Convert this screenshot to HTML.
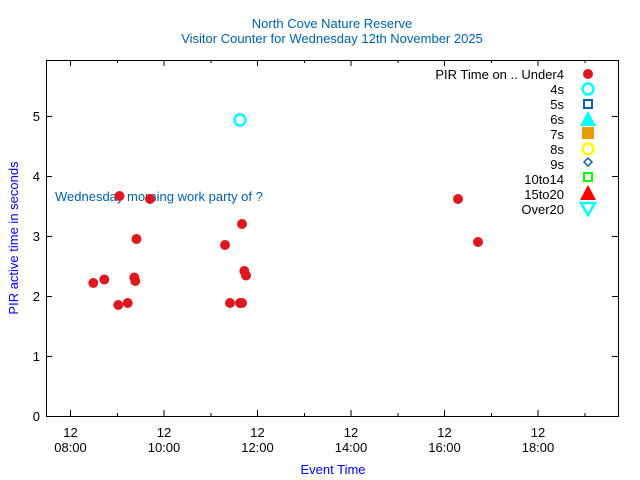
<!DOCTYPE html>
<html><head><meta charset="utf-8"><style>body{margin:0;background:#fff}svg{display:block}text{font-family:"Liberation Sans",sans-serif;font-size:13px}</style></head><body>
<svg width="640" height="480" xmlns="http://www.w3.org/2000/svg">
<rect width="640" height="480" fill="#fff"/>
<text x="332" y="28" text-anchor="middle" fill="#0060ad">North Cove Nature Reserve</text>
<text x="332" y="43" text-anchor="middle" fill="#0060ad">Visitor Counter for Wednesday 12th November 2025</text>
<rect x="46.5" y="60.5" width="572" height="356" fill="none" stroke="#000" stroke-width="1"/>
<g stroke="#000" stroke-width="1">
<path d="M46 356.5h6M46 296.5h6M46 236.5h6M46 176.5h6M46 116.5h6M618 356.5h-6M618 296.5h-6M618 236.5h-6M618 176.5h-6M618 116.5h-6"/>
<path d="M70.5 416v-6M164 416v-6M257.5 416v-6M351 416v-6M444.5 416v-6M538 416v-6M117.5 416v-3M211 416v-3M304.5 416v-3M398 416v-3M491.5 416v-3M585 416v-3"/>
<path d="M70.5 60v6M164 60v6M257.5 60v6M351 60v6M444.5 60v6M538 60v6M117.5 60v3M211 60v3M304.5 60v3M398 60v3M491.5 60v3M585 60v3"/>
</g>
<g text-anchor="end" fill="#000">
<text x="40" y="421">0</text><text x="40" y="361">1</text><text x="40" y="301">2</text><text x="40" y="241">3</text><text x="40" y="181">4</text><text x="40" y="121">5</text>
</g>
<g text-anchor="middle" fill="#000">
<text x="70.5" y="437">12</text><text x="70.5" y="452">08:00</text>
<text x="164" y="437">12</text><text x="164" y="452">10:00</text>
<text x="257.5" y="437">12</text><text x="257.5" y="452">12:00</text>
<text x="351" y="437">12</text><text x="351" y="452">14:00</text>
<text x="444.5" y="437">12</text><text x="444.5" y="452">16:00</text>
<text x="538" y="437">12</text><text x="538" y="452">18:00</text>
</g>
<text x="333" y="474" text-anchor="middle" fill="#0000ff">Event Time</text>
<text transform="translate(18,238) rotate(-90)" text-anchor="middle" fill="#0000ff">PIR active time in seconds</text>
<text x="55" y="201" fill="#0060ad">Wednesday morning work party of ?</text>
<g fill="#dd181f">
<circle cx="93.3" cy="283" r="5"/><circle cx="104.3" cy="279.5" r="5"/><circle cx="118.3" cy="305" r="5"/><circle cx="119.5" cy="196" r="5"/><circle cx="127.7" cy="303" r="5"/><circle cx="134.3" cy="277.5" r="5"/><circle cx="135.3" cy="281" r="5"/><circle cx="136.5" cy="239" r="5"/><circle cx="150" cy="199" r="5"/><circle cx="225" cy="245" r="5"/><circle cx="230" cy="303" r="5"/><circle cx="240" cy="303" r="5"/><circle cx="242" cy="303" r="5"/><circle cx="242" cy="224" r="5"/><circle cx="244.3" cy="271" r="5"/><circle cx="246" cy="275.5" r="5"/><circle cx="458" cy="199" r="5"/><circle cx="478" cy="242" r="5"/>
</g>
<circle cx="240" cy="120" r="5.5" fill="none" stroke="#00ffff" stroke-width="2.5"/>
<g text-anchor="end" fill="#000">
<text x="564" y="79">PIR Time on .. Under4</text><text x="564" y="94">4s</text><text x="564" y="109">5s</text><text x="564" y="124">6s</text><text x="564" y="139">7s</text><text x="564" y="154">8s</text><text x="564" y="169">9s</text><text x="564" y="184">10to14</text><text x="564" y="199">15to20</text><text x="564" y="214">Over20</text>
</g>
<circle cx="588" cy="74" r="5" fill="#dd181f"/>
<circle cx="588" cy="89" r="5.5" fill="none" stroke="#00ffff" stroke-width="2.5"/>
<rect x="584" y="100" width="8" height="8" fill="none" stroke="#0060ad" stroke-width="2"/>
<path d="M588 111L596 126H580Z" fill="#00ffff"/>
<rect x="582" y="127" width="12" height="12" fill="#e69f00"/>
<circle cx="588" cy="149" r="5.5" fill="none" stroke="#ffff00" stroke-width="2.5"/>
<path d="M588 158L592 162L588 166L584 162Z" fill="none" stroke="#0060ad" stroke-width="1.5"/>
<rect x="584" y="173" width="8" height="8" fill="none" stroke="#00ff00" stroke-width="2"/>
<path d="M588 185L596 200H580Z" fill="#ff0000"/>
<path d="M581 203H595L588 215Z" fill="none" stroke="#00ffff" stroke-width="2.5"/>
</svg>
</body></html>
